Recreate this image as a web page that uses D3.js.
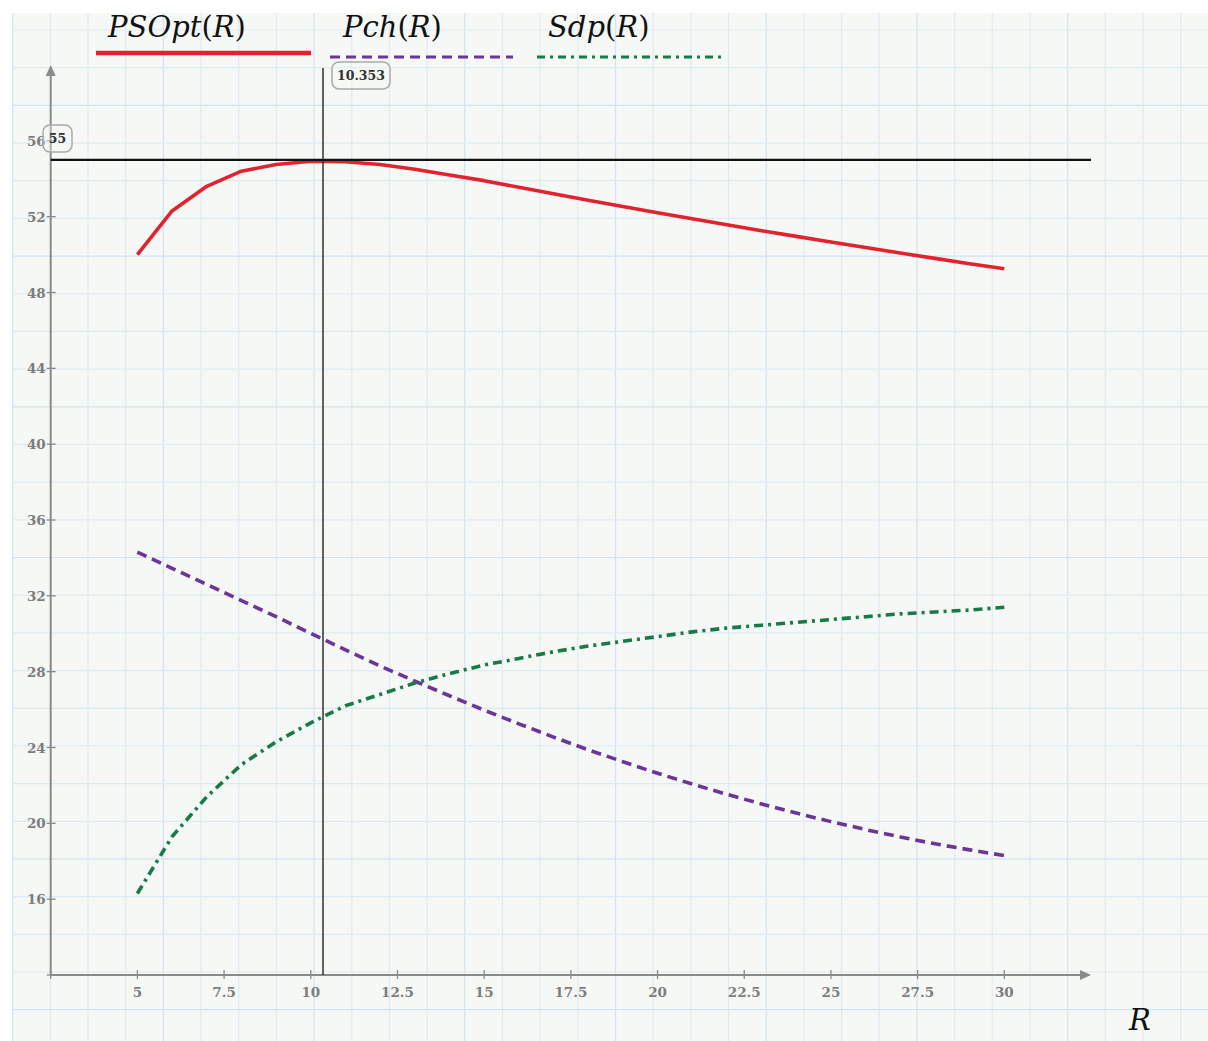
<!DOCTYPE html>
<html>
<head>
<meta charset="utf-8">
<script src="https://cdn.jsdelivr.net/npm/d3@7"></script>
<style>
    html, body { margin: 0; padding: 0; background: #ffffff; }
    svg { display: block; }
    .tick-label { font-family: "DejaVu Serif", "Liberation Serif", serif; font-weight: bold; font-size: 13.5px; fill: #7d7d7d; }
    .marker-label { font-family: "DejaVu Serif", "Liberation Serif", serif; font-weight: bold; font-size: 12.5px; fill: #333; }
    .math { font-family: "DejaVu Serif", "Liberation Serif", serif; font-size: 29px; fill: #111; }
</style>
</head>
<body>
<svg id="chart"></svg>
<script>
// R values (x) for every curve
const rValues = [5, 6, 7, 8, 9, 10, 11, 12, 13, 14, 15, 16, 17, 18, 19, 20,
                 21, 22, 23, 24, 25, 26, 27, 28, 29, 30];

// PSOpt(R) - solid red
const psoptValues = [50.0, 52.3, 53.6, 54.4, 54.75, 54.92, 54.9, 54.75, 54.5, 54.2,
                     53.9, 53.55, 53.21, 52.87, 52.54, 52.21, 51.89, 51.57, 51.26, 50.96,
                     50.66, 50.37, 50.08, 49.8, 49.52, 49.25];

// Pch(R) - dashed purple
const pchValues = [34.3, 33.45, 32.6, 31.75, 30.9, 30.02, 29.15, 28.3, 27.5, 26.73,
                   25.97, 25.25, 24.55, 23.88, 23.25, 22.64, 22.07, 21.53, 21.02, 20.54,
                   20.09, 19.67, 19.28, 18.92, 18.6, 18.3];

// Sdp(R) - dash-dot green
const sdpValues = [16.3, 19.3, 21.4, 23.1, 24.3, 25.3, 26.2, 26.8, 27.4, 27.9,
                   28.35, 28.7, 29.05, 29.35, 29.6, 29.85, 30.1, 30.3, 30.45, 30.6,
                   30.75, 30.9, 31.05, 31.15, 31.25, 31.4];

// tick labels
const xTicks = [5, 7.5, 10, 12.5, 15, 17.5, 20, 22.5, 25, 27.5, 30];
const yTicks = [16, 20, 24, 28, 32, 36, 40, 44, 48, 52, 56];

// trace markers
const markerX = 10.353;
const markerY = 55;

const width = 1208, height = 1041;

const svg = d3.select("#chart")
              .attr("width", width)
              .attr("height", height);

const x = d3.scaleLinear().domain([2.5, 32.5]).range([50.7, 1091]);
const y = d3.scaleLinear().domain([12, 60]).range([975, 65]);

// worksheet paper background
function drawPaper() {
    const left = 12, top = 13, cell = 37.68;
    svg.append("rect")
       .attr("x", left)
       .attr("y", top)
       .attr("width", width - left)
       .attr("height", height - top)
       .attr("fill", "#f5f8f5");

    const vLines = d3.range(-2, 31).map(k => ({ pos: 88 + k * cell, major: ((k % 4) + 4) % 4 === 2 }))
                     .filter(d => d.pos > left && d.pos < width);
    const hLines = d3.range(0, 28).map(k => ({ pos: 30 + k * cell, major: k % 4 === 2 }))
                     .filter(d => d.pos > top && d.pos < height);

    svg.append("g").selectAll("line")
       .data(vLines)
       .enter()
       .append("line")
       .attr("x1", d => d.pos)
       .attr("x2", d => d.pos)
       .attr("y1", top)
       .attr("y2", height)
       .attr("stroke", d => d.major ? "#d2e3f1" : "#dfebf4")
       .attr("stroke-width", 1.2);

    svg.append("g").selectAll("line")
       .data(hLines)
       .enter()
       .append("line")
       .attr("x1", left)
       .attr("x2", width)
       .attr("y1", d => d.pos)
       .attr("y2", d => d.pos)
       .attr("stroke", d => d.major ? "#d2e3f1" : "#dfebf4")
       .attr("stroke-width", 1.2);
}

// axes with cross ticks and arrow heads
function drawAxes() {
    const axisColor = "#8a8a8a";
    const g = svg.append("g");

    g.append("line")
     .attr("x1", x(2.5)).attr("x2", x(32.5) - 8)
     .attr("y1", y(12)).attr("y2", y(12))
     .attr("stroke", axisColor).attr("stroke-width", 2);
    g.append("path")
     .attr("d", `M${x(32.5)},${y(12)} L${x(32.5) - 11},${y(12) - 5} L${x(32.5) - 11},${y(12) + 5} Z`)
     .attr("fill", axisColor);

    g.append("line")
     .attr("x1", x(2.5)).attr("x2", x(2.5))
     .attr("y1", y(12)).attr("y2", y(60) + 8)
     .attr("stroke", axisColor).attr("stroke-width", 2);
    g.append("path")
     .attr("d", `M${x(2.5)},${y(60)} L${x(2.5) - 5},${y(60) + 11} L${x(2.5) + 5},${y(60) + 11} Z`)
     .attr("fill", axisColor);

    // x ticks
    g.selectAll(".xtick")
     .data([2.5].concat(xTicks))
     .enter()
     .append("line")
     .attr("class", "xtick")
     .attr("x1", d => x(d)).attr("x2", d => x(d))
     .attr("y1", y(12) - 5).attr("y2", y(12) + 4)
     .attr("stroke", axisColor).attr("stroke-width", 1.3);

    g.selectAll(".xlabel")
     .data(xTicks)
     .enter()
     .append("text")
     .attr("class", "tick-label")
     .attr("x", d => x(d))
     .attr("y", y(12) + 22)
     .attr("text-anchor", "middle")
     .text(d => d);

    // y ticks
    g.selectAll(".ytick")
     .data([12].concat(yTicks))
     .enter()
     .append("line")
     .attr("class", "ytick")
     .attr("x1", x(2.5) - 4).attr("x2", x(2.5) + 5)
     .attr("y1", d => y(d)).attr("y2", d => y(d))
     .attr("stroke", axisColor).attr("stroke-width", 1.3);

    g.selectAll(".ylabel")
     .data(yTicks)
     .enter()
     .append("text")
     .attr("class", "tick-label")
     .attr("x", x(2.5) - 5)
     .attr("y", d => y(d) + 5)
     .attr("text-anchor", "end")
     .text(d => d);
}

// the three curves
function drawCurves() {
    const series = [
        { values: psoptValues, color: "#e2222f", dash: null },
        { values: pchValues, color: "#6e3598", dash: "10,6" },
        { values: sdpValues, color: "#177a48", dash: "9,5,3,5" }
    ];

    const line = d3.line()
                   .x(d => x(d[0]))
                   .y(d => y(d[1]));

    series.forEach(s => {
        svg.append("path")
           .datum(rValues.map((r, i) => [r, s.values[i]]))
           .attr("d", line)
           .attr("fill", "none")
           .attr("stroke", s.color)
           .attr("stroke-width", 3.6)
           .attr("stroke-linejoin", "round")
           .attr("stroke-dasharray", s.dash);
    });
}

// trace lines with value boxes
function drawMarkers() {
    svg.append("line")
       .attr("x1", x(2.5)).attr("x2", x(32.5))
       .attr("y1", y(markerY)).attr("y2", y(markerY))
       .attr("stroke", "#111").attr("stroke-width", 2.2);

    svg.append("line")
       .attr("x1", x(markerX)).attr("x2", x(markerX))
       .attr("y1", 68).attr("y2", y(12))
       .attr("stroke", "#222").attr("stroke-width", 1.4);

    const boxes = [
        { text: "55", x: 43, y: 125, w: 29, h: 27 },
        { text: "10.353", x: x(markerX) + 9, y: 62, w: 58, h: 27 }
    ];

    boxes.forEach(b => {
        svg.append("rect")
           .attr("x", b.x).attr("y", b.y)
           .attr("width", b.w).attr("height", b.h)
           .attr("rx", 7)
           .attr("fill", "#f5f8f5")
           .attr("fill-opacity", 0.35)
           .attr("stroke", "#a9a9a9")
           .attr("stroke-width", 1.5);
        svg.append("text")
           .attr("class", "marker-label")
           .attr("x", b.x + b.w / 2)
           .attr("y", b.y + 18)
           .attr("text-anchor", "middle")
           .text(b.text);
    });
}

// legend: function names over line samples
function drawLegend() {
    const items = [
        { name: "PSOpt", tx: 108, x1: 96, x2: 311, ly: 53, color: "#e2222f", dash: null, w: 4.5 },
        { name: "Pch", tx: 343, x1: 330, x2: 513, ly: 57, color: "#6e3598", dash: "10,6", w: 3.2 },
        { name: "Sdp", tx: 548, x1: 537, x2: 726, ly: 57, color: "#177a48", dash: "8,5,3,5", w: 3.2 }
    ];

    items.forEach(it => {
        const t = svg.append("text")
                     .attr("class", "math")
                     .attr("x", it.tx)
                     .attr("y", 37);
        t.append("tspan").attr("font-style", "italic").text(it.name);
        t.append("tspan").text("(");
        t.append("tspan").attr("font-style", "italic").text("R");
        t.append("tspan").text(")");

        svg.append("line")
           .attr("x1", it.x1).attr("x2", it.x2)
           .attr("y1", it.ly).attr("y2", it.ly)
           .attr("stroke", it.color)
           .attr("stroke-width", it.w)
           .attr("stroke-dasharray", it.dash);
    });

    // x variable name, bottom right
    svg.append("text")
       .attr("class", "math")
       .attr("x", 1129)
       .attr("y", 1030)
       .attr("font-style", "italic")
       .text("R");
}

drawPaper();
drawAxes();
drawCurves();
drawMarkers();
drawLegend();
</script>
</body>
</html>
